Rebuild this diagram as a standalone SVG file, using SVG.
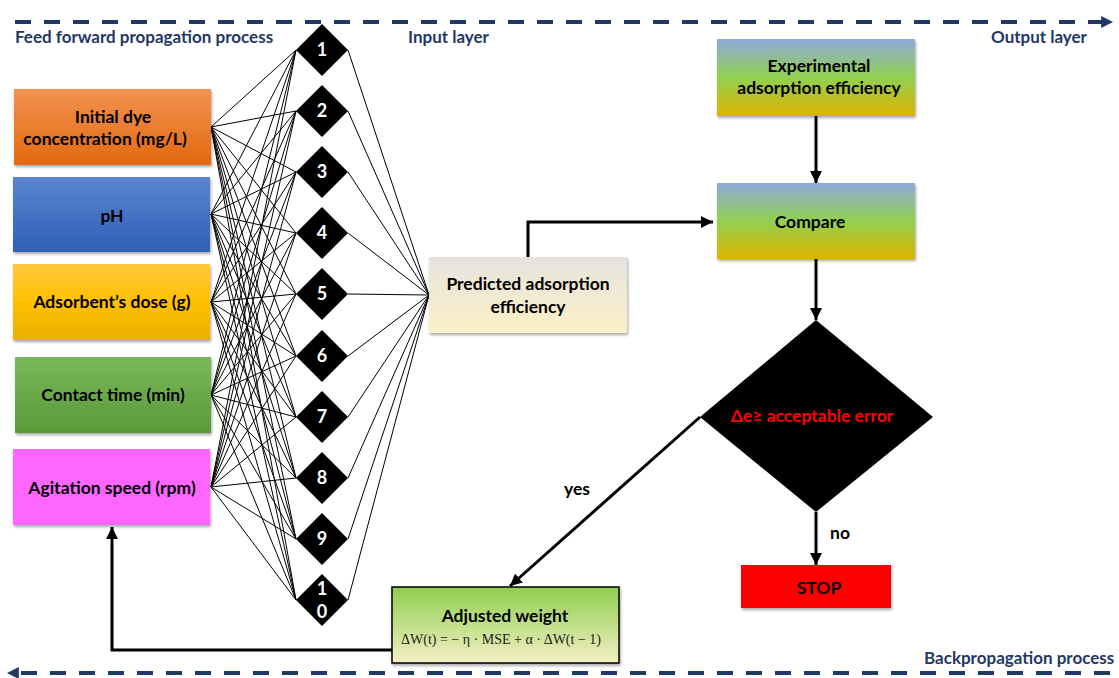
<svg xmlns="http://www.w3.org/2000/svg" width="1119" height="678" viewBox="0 0 1119 678">
<style>
.t{font-family:Lato,"Liberation Sans",sans-serif;font-weight:bold;font-size:17.5px;fill:#000;text-anchor:middle}
.hd{font-family:Lato,"Liberation Sans",sans-serif;font-weight:bold;font-size:17px;fill:#1f3864}
.num{font-family:Lato,"Liberation Sans",sans-serif;font-weight:bold;font-size:18px;fill:#fff;text-anchor:middle}
.dash{stroke:#1f3864;stroke-width:4;stroke-dasharray:16 13;fill:none}
.net{stroke:#000;stroke-width:1;fill:none}
.arr{stroke:#000;stroke-width:3;fill:none}
.dia{fill:#000}
</style>
<defs>
<linearGradient id="gOr" x1="0" y1="0" x2="0" y2="1"><stop offset="0" stop-color="#f39250"/><stop offset="1" stop-color="#e2690f"/></linearGradient>
<linearGradient id="gBl" x1="0" y1="0" x2="0" y2="1"><stop offset="0" stop-color="#5b85d0"/><stop offset="1" stop-color="#2f5fb6"/></linearGradient>
<linearGradient id="gYe" x1="0" y1="0" x2="0" y2="1"><stop offset="0" stop-color="#ffc840"/><stop offset="0.5" stop-color="#ffc000"/><stop offset="1" stop-color="#e8b000"/></linearGradient>
<linearGradient id="gGr" x1="0" y1="0" x2="0" y2="1"><stop offset="0" stop-color="#7ab85a"/><stop offset="1" stop-color="#5a9a38"/></linearGradient>
<linearGradient id="gPr" x1="0" y1="0" x2="0" y2="1"><stop offset="0" stop-color="#e6e3df"/><stop offset="1" stop-color="#fdf0c6"/></linearGradient>
<linearGradient id="gCm" x1="0" y1="0" x2="0" y2="1"><stop offset="0" stop-color="#8eaadb"/><stop offset="0.5" stop-color="#92d050"/><stop offset="1" stop-color="#dfb300"/></linearGradient>
<linearGradient id="gAd" x1="0" y1="0" x2="0" y2="1"><stop offset="0" stop-color="#8fce4e"/><stop offset="1" stop-color="#f4f0c4"/></linearGradient>
<filter id="sh" x="-10%" y="-10%" width="125%" height="130%"><feDropShadow dx="1" dy="2" stdDeviation="1.5" flood-color="#000" flood-opacity="0.35"/></filter>
<marker id="ah" viewBox="0 0 10 10" refX="10" refY="5" markerWidth="4" markerHeight="4" orient="auto" markerUnits="strokeWidth"><path d="M0 0L10 5L0 10z" fill="#000"/></marker>
<marker id="ahb" viewBox="0 0 10 10" refX="9" refY="5" markerWidth="3" markerHeight="3" orient="auto" markerUnits="strokeWidth"><path d="M0 0L10 5L0 10z" fill="#1f3864"/></marker>
</defs>

<g id="process-lines">
<path class="dash" d="M15 22H1112" marker-end="url(#ahb)"/>
<path class="dash" d="M1110 673H8" marker-end="url(#ahb)"/>
<text class="hd" x="15" y="43">Feed forward propagation process</text>
<text class="hd" x="408" y="43">Input layer</text>
<text class="hd" x="991" y="43">Output layer</text>
<text class="hd" x="924" y="664">Backpropagation process</text>
</g>

<g id="connectors">
<path class="net" d="M211 127L296 50M211 127L296 111M211 127L296 172M211 127L296 233M211 127L296 294M211 127L296 356M211 127L296 417M211 127L296 478M211 127L296 539M211 127L296 600
M211 214L296 50M211 214L296 111M211 214L296 172M211 214L296 233M211 214L296 294M211 214L296 356M211 214L296 417M211 214L296 478M211 214L296 539M211 214L296 600
M211 302L296 50M211 302L296 111M211 302L296 172M211 302L296 233M211 302L296 294M211 302L296 356M211 302L296 417M211 302L296 478M211 302L296 539M211 302L296 600
M211 395L296 50M211 395L296 111M211 395L296 172M211 395L296 233M211 395L296 294M211 395L296 356M211 395L296 417M211 395L296 478M211 395L296 539M211 395L296 600
M211 487L296 50M211 487L296 111M211 487L296 172M211 487L296 233M211 487L296 294M211 487L296 356M211 487L296 417M211 487L296 478M211 487L296 539M211 487L296 600
M348 50L429 295M348 111L429 295M348 172L429 295M348 233L429 295M348 294L429 295M348 356L429 295M348 417L429 295M348 478L429 295M348 539L429 295M348 600L429 295"/>
<path class="arr" d="M528 257V222H713" marker-end="url(#ah)"/>
<path class="arr" d="M816 116V183" marker-end="url(#ah)"/>
<path class="arr" d="M816 259V320" marker-end="url(#ah)"/>
<path class="arr" d="M816 512V565" marker-end="url(#ah)"/>
<path class="arr" d="M700 417L510 586" marker-end="url(#ah)"/>
<path class="arr" d="M392 650H112V527" marker-end="url(#ah)"/>
<text class="t" x="577" y="495">yes</text>
<text class="t" x="840" y="539">no</text>
</g>

<g id="input-dye">
<rect x="14" y="89" width="197" height="76" fill="url(#gOr)" filter="url(#sh)"/>
<text class="t" x="113" y="123">Initial dye</text>
<text class="t" x="105" y="145">concentration (mg/L)</text>
</g>
<g id="input-ph">
<rect x="13" y="177" width="197" height="75" fill="url(#gBl)" filter="url(#sh)"/>
<text class="t" x="112" y="222">pH</text>
</g>
<g id="input-dose">
<rect x="13" y="264" width="197" height="76" fill="url(#gYe)" filter="url(#sh)"/>
<text class="t" x="112" y="308">Adsorbent’s dose (g)</text>
</g>
<g id="input-time">
<rect x="15" y="357" width="196" height="76" fill="url(#gGr)" filter="url(#sh)"/>
<text class="t" x="113" y="401">Contact time (min)</text>
</g>
<g id="input-speed">
<rect x="13" y="449" width="197" height="76" fill="#ff66ff" filter="url(#sh)"/>
<text class="t" x="112" y="494">Agitation speed (rpm)</text>
</g>

<g id="hidden-1"><path class="dia" d="M322 24L348 50L322 76L296 50z"/><text class="num" x="322" y="56">1</text></g>
<g id="hidden-2"><path class="dia" d="M322 85L348 111L322 137L296 111z"/><text class="num" x="322" y="117">2</text></g>
<g id="hidden-3"><path class="dia" d="M322 146L348 172L322 198L296 172z"/><text class="num" x="322" y="178">3</text></g>
<g id="hidden-4"><path class="dia" d="M322 207L348 233L322 259L296 233z"/><text class="num" x="322" y="239">4</text></g>
<g id="hidden-5"><path class="dia" d="M322 268L348 294L322 320L296 294z"/><text class="num" x="322" y="300">5</text></g>
<g id="hidden-6"><path class="dia" d="M322 330L348 356L322 382L296 356z"/><text class="num" x="322" y="362">6</text></g>
<g id="hidden-7"><path class="dia" d="M322 391L348 417L322 443L296 417z"/><text class="num" x="322" y="423">7</text></g>
<g id="hidden-8"><path class="dia" d="M322 452L348 478L322 504L296 478z"/><text class="num" x="322" y="484">8</text></g>
<g id="hidden-9"><path class="dia" d="M322 513L348 539L322 565L296 539z"/><text class="num" x="322" y="545">9</text></g>
<g id="hidden-10"><path class="dia" d="M322 574L348 600L322 626L296 600z"/><text class="num" x="322" y="595">1</text><text class="num" x="322" y="618">0</text></g>

<g id="predicted">
<rect x="429" y="257" width="198" height="76" fill="url(#gPr)" filter="url(#sh)"/>
<text class="t" x="528" y="290">Predicted adsorption</text>
<text class="t" x="528" y="313">efficiency</text>
</g>
<g id="experimental">
<rect x="717" y="39" width="198" height="77" fill="url(#gCm)" filter="url(#sh)"/>
<text class="t" x="819" y="72">Experimental</text>
<text class="t" x="819" y="94">adsorption efficiency</text>
</g>
<g id="compare">
<rect x="717" y="183" width="198" height="76" fill="url(#gCm)" filter="url(#sh)"/>
<text class="t" x="810" y="228">Compare</text>
</g>
<g id="decision">
<path d="M816 320L933 417L816 512L700 417z" fill="#000"/>
<text class="t" x="812" y="422" style="fill:#ff0000">Δe≥ acceptable error</text>
</g>
<g id="stop">
<rect x="741" y="565" width="150" height="43" fill="#ff0000" filter="url(#sh)"/>
<text class="t" x="819" y="594">STOP</text>
</g>
<g id="adjusted">
<rect x="392" y="587" width="227" height="76" fill="url(#gAd)" stroke="#000" stroke-width="1.5" filter="url(#sh)"/>
<text class="t" x="505" y="622">Adjusted weight</text>
<text x="501" y="644" style="font-family:'Liberation Serif',serif;font-size:14px;text-anchor:middle;fill:#222">ΔW(t) = − η · MSE + α · ΔW(t − 1)</text>
</g>
</svg>
